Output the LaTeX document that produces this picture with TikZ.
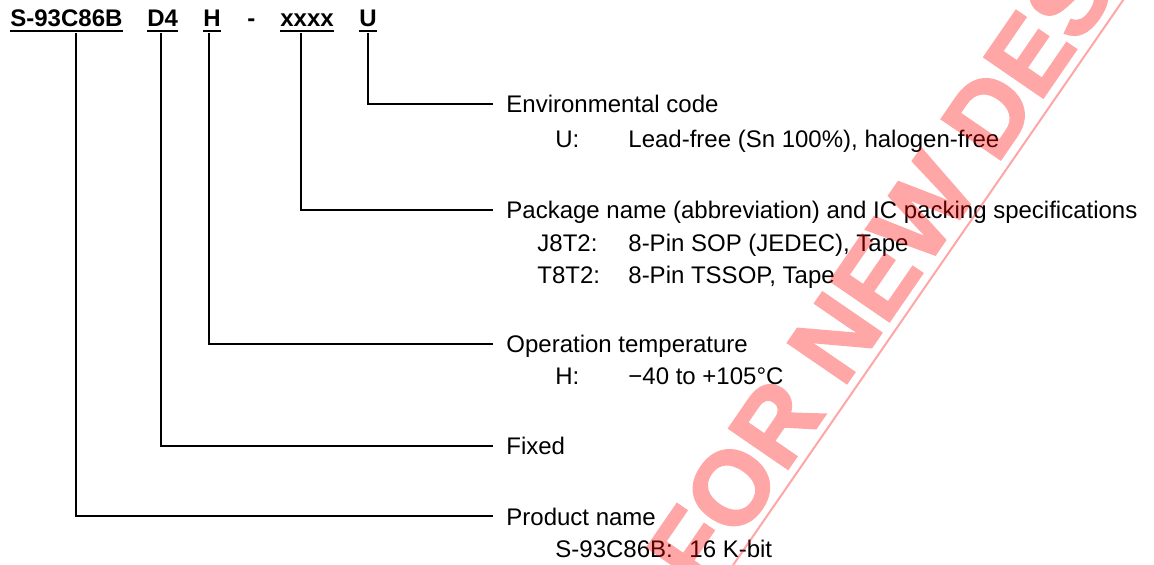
\documentclass[tikz,border=0pt]{standalone}
\usepackage{fontspec}
\setmainfont{Liberation Sans}
\usepackage{xcolor}
\usetikzlibrary{positioning}
\tikzset{
    x=0.5pt, y=-0.5pt, % one unit is one pixel of the page, y runs down
    every node/.style={font=\fontsize{12}{14}\selectfont, inner sep=0pt},
    code/.style={font=\fontsize{12}{14}\selectfont\bfseries, anchor=base west}, % the part number
    lbl/.style={anchor=west, inner xsep=6.5pt, text height=10pt, text depth=1pt}, % field name
    item/.style={anchor=base west}, % one code and its meaning
    wmark/.style={text=red, rotate=55.5, anchor=base west,
        font=\fontsize{52}{58}\selectfont\bfseries\addfontfeature{FakeBold=2}},
}
\tikzstyle{lead} = [line width=1pt]
\tikzstyle{wline} = [red, line width=1pt]

\begin{document}
\begin{tikzpicture}
    \useasboundingbox (0,0) rectangle (1154,565);

    % part number
    \node[code] (pS) at (10,27) {S-93C86B};
    \node[code] (pD) at (147,27) {D4};
    \node[code] (pH) at (203,27) {H};
    \node[code] (pdash) at (247,27) {-};
    \node[code] (pX) at (280,27) {xxxx};
    \node[code] (pU) at (359,27) {U};
    \foreach \n in {pS,pD,pH,pX,pU}
        \draw[lead] ([yshift=-2pt]\n.base west) -- ([yshift=-2pt]\n.base east);

    \coordinate (tapS) at (76,33);
    \coordinate (tapD) at (161,33);
    \coordinate (tapH) at (209,33);
    \coordinate (tapX) at (301,33);
    \coordinate (tapU) at (368,33);

    % fields
    \node[lbl] (env) at (493,104) {Environmental code};
    \node[item] (envU) at (555,148) {U:};
    \node[item] (envUt) at (628,148) {Lead-free (Sn 100\%), halogen-free};

    \node[lbl] (pkg) at (493,210) {Package name (abbreviation) and IC packing specifications};
    \node[item] (pkgJ) at (537,252) {J8T2:};
    \node[item] (pkgJt) at (628,252) {8-Pin SOP (JEDEC), Tape};
    \node[item] (pkgT) at (537,284) {T8T2:};
    \node[item] (pkgTt) at (628,284) {8-Pin TSSOP, Tape};

    \node[lbl] (opt) at (493,344) {Operation temperature};
    \node[item] (optH) at (555,385) {H:};
    \node[item] (optHt) at (628,385) {−40 to +105°C};

    \node[lbl] (fix) at (493,446) {Fixed};

    \node[lbl] (prd) at (493,516) {Product name};
    \node[item] (prdS) at (555,557) {S-93C86B:};
    \node[item] (prdSt) at (689,557) {16 K-bit};

    \draw[lead] (tapU) |- (env.west);
    \draw[lead] (tapX) |- (pkg.west);
    \draw[lead] (tapH) |- (opt.west);
    \draw[lead] (tapD) |- (fix.west);
    \draw[lead] (tapS) |- (prd.west);

    % watermark
    \begin{scope}[transparency group, opacity=0.35]
        \clip (0,0) rectangle (1154,565);
        \node[wmark] (wm) at (702,594) {FOR NEW DESIGN};
        \coordinate (wa) at (709,600);
        \coordinate (wb) at (1137,-20);
        \draw[wline] (wa) -- (wb);
    \end{scope}
\end{tikzpicture}
\end{document}
